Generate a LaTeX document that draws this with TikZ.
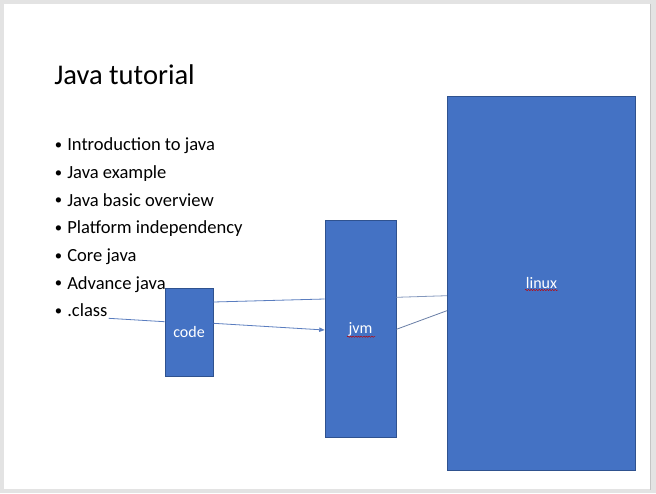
\documentclass[tikz,border=0pt]{standalone}
\usepackage{fontspec}
\setmainfont{Carlito}
\usetikzlibrary{arrows.meta,calc,decorations.pathmorphing}
\definecolor{slideblue}{HTML}{4472C4}
\definecolor{slideedge}{HTML}{2F528F}
\definecolor{wirecol}{HTML}{5A7DBF}
\definecolor{frame}{HTML}{E3E3E3}
\definecolor{frameedge}{HTML}{C4C4C4}
\begin{document}
\begin{tikzpicture}[x=0.75pt,y=-0.75pt,
  block/.style={draw=slideedge, fill=slideblue, line width=0.6pt, inner sep=0pt,
    text=white, font=\fontsize{12}{14}\selectfont},
  wire/.style={draw=wirecol, line width=0.6pt},
  item/.style={anchor=base west, inner sep=0pt, font=\fontsize{13.9}{16}\selectfont},
  bulletmark/.style={anchor=base west, inner sep=0pt, font=\fontsize{11}{12}\selectfont},
  squiggle/.style={draw=red!75!black, line width=0.35pt, decorate,
    decoration={snake, amplitude=0.45pt, segment length=2pt}}]
\useasboundingbox (0,0) rectangle (656,493);

% window frame and slide
\fill[frame] (0,0) rectangle (656,493);
\fill[white] (4,3.5) rectangle (650,489);
\draw[frameedge, line width=0.8pt] (650.5,3.5) -- (650.5,490);

% title
\node[anchor=base west, inner sep=0pt, font=\fontsize{21.4}{24}\selectfont] (title) at (54,84) {Java tutorial};

% bullet list
\foreach \i/\txt/\nm in {0/Introduction to java/intro, 1/Java example/example,
    2/Java basic overview/overview, 3/Platform independency/platform,
    4/Core java/core, 5/Advance java/advance, 6/.class/cls}{
  \node[bulletmark] (dot\i) at (54.5,149.5+27.65*\i) {\textbullet};
  \node[item] (\nm) at (67,150.9+27.65*\i) {\txt};
}

% blocks
\node[block, minimum width=36pt, minimum height=66pt] (code) at (189,332) {code};
\node[block, minimum width=53.25pt, minimum height=162.75pt] (jvm) at (360.5,329.2) {jvm};
\node[block, minimum width=141.3pt, minimum height=280.5pt] (linux) at (541.5,283) {linux};

% spelling marks under the block labels
\draw[squiggle] ($(jvm.center)+(-13.5,7.5)$) -- ($(jvm.center)+(14.5,7.5)$);
\draw[squiggle] ($(linux.center)+(-16.5,7)$) -- ($(linux.center)+(16.5,7)$);

% connectors
\draw[wire] ($(cls.base east)+(1,1.5)$) -- ($(code.west)+(0,-10.3)$);
\draw[wire] ($(code.east)+(0,-30)$) -- ($(jvm.west)+(0,-30.2)$);
\draw[wire, -{Triangle[length=4pt,width=3.2pt]}] ($(code.east)+(0,-8.7)$) -- ($(jvm.west)+(0,0.8)$);
\draw[wire, draw=wirecol!70!gray!80] ($(jvm.east)+(0,-31.9)$) -- ($(linux.west)+(0,12.7)$);
\draw[wire, draw=wirecol!60!gray] ($(jvm.east)+(0,0.1)$) -- ($(linux.west)+(0,27.7)$);
\end{tikzpicture}
\end{document}
